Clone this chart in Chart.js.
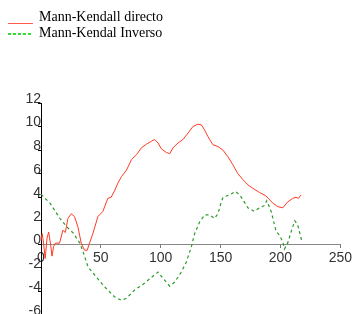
<!DOCTYPE html>
<html>
<head>
<meta charset="utf-8">
<script src="https://cdn.jsdelivr.net/npm/chart.js@4"></script>
<style>
  html, body { margin: 0; padding: 0; background: #fff; overflow: hidden; }
  #wrap { position: relative; width: 354px; height: 314px; overflow: hidden; }
  #chart { position: absolute; left: 0; top: 0; }
  .lg-text { position: absolute; left: 39px; font: 14px "Liberation Serif", "Times New Roman", serif; line-height: 16px; color: #000; white-space: nowrap; }
  .lg-line { position: absolute; left: 8px; width: 25px; }
</style>
</head>
<body>
<div id="wrap">
  <canvas id="chart" width="354" height="330"></canvas>
  <div class="lg-line" style="top:23px;height:1px;background:#ff5a4a;"></div>
  <div class="lg-text" style="top:9px;">Mann-Kendall directo</div>
  <div class="lg-line" style="top:33px;height:2px;width:23px;background:repeating-linear-gradient(90deg,#33dd33 0 3px,transparent 3px 5px);"></div>
  <div class="lg-text" style="top:25px;">Mann-Kendal Inverso</div>
</div>
<script>
// Mann-Kendall directo
const directoX = [0, 1, 2, 3.5, 5, 6.4, 8, 9.2, 10.5, 12, 15.5, 18.3, 20.3, 22.5, 25.3, 28, 30.8, 33.6, 36.4, 38.6,
  40.5, 43.3, 47.5, 51.7, 55.8, 58.6, 61.7, 64.2, 67.2, 71.4, 75.6, 79.7, 83.9, 88, 92.2, 95, 97.8, 100.6, 104.7, 107.5,
  110.3, 114.4, 118.6, 122.8, 126.9, 131, 133.9, 136.7, 139.4, 143.6, 147.8, 152, 156, 160.3, 164.4, 168.6, 172.8, 177,
  182.5, 188, 193.6, 197.8, 202, 206, 210.3, 213, 215, 217.2];
const directoY = [0.3, 0.9, 0.2, -1.2, 0.5, 1.05, 0, -1.0, -0.2, 0.1, 0.1, 1.2, 1.0, 2.2, 2.6, 2.35, 1.5, 0.1, -0.5, -0.5,
  0.1, 0.9, 2.35, 2.8, 3.9, 4.0, 4.6, 5.2, 5.75, 6.3, 7.2, 7.6, 8.2, 8.5, 8.75, 8.9, 8.6, 8.1, 7.8, 7.7,
  8.2, 8.6, 8.9, 9.45, 10.0, 10.2, 10.15, 9.7, 9.15, 8.45, 8.3, 8.0, 7.45, 6.75, 6.0, 5.5, 5.05, 4.75,
  4.4, 4.1, 3.5, 3.2, 3.1, 3.6, 3.9, 4.0, 3.9, 4.2];

// Mann-Kendal Inverso
const inversoX = [0, 7.5, 15.8, 21.4, 27, 32.5, 35, 39.2, 46, 53, 61.4, 67, 71, 78, 86.4, 94.7, 97.8, 102, 107.5, 111.7,
  117.2, 121.4, 125.6, 128.3, 132.5, 136.7, 140.8, 145, 147.8, 150.6, 152, 157.5, 162.5, 167, 172.8, 178.3, 182.5, 186.7,
  188.6, 192.2, 196.4, 199, 202, 203.3, 206, 209, 212, 214.4, 218];
const inversoY = [4.25, 3.5, 2.2, 1.5, 0.95, 0.1, -0.6, -1.9, -2.75, -3.6, -4.45, -4.75, -4.6, -3.9, -3.3, -2.6, -2.35, -2.9, -3.55, -3.2,
  -2.35, -1.5, -0.2, 0.9, 1.9, 2.5, 2.5, 2.2, 2.6, 3.6, 4.0, 4.2, 4.5, 4.05, 3.1, 2.8, 3.1, 3.3,
  3.7, 2.8, 1.1, 0.8, 0.2, -0.4, 0.1, 1.1, 2.0, 1.65, 0.2];

const xTicks = [0, 50, 100, 150, 200, 250];
const yTicks = [-6, -4, -2, 0, 2, 4, 6, 8, 10, 12];

function toPoints(xs, ys) {
    return xs.map((x, i) => ({ x: x, y: ys[i] }));
}

const tickFont = { family: '"Liberation Sans", Arial, sans-serif', size: 14 };

new Chart(document.getElementById('chart').getContext('2d'), {
    type: 'line',
    data: {
        datasets: [{
            label: 'Mann-Kendall directo',
            data: toPoints(directoX, directoY),
            borderColor: '#ff3a24',
            borderWidth: 1,
            pointRadius: 0,
            tension: 0
        }, {
            label: 'Mann-Kendal Inverso',
            data: toPoints(inversoX, inversoY),
            borderColor: '#2a9a2a',
            borderWidth: 1.2,
            borderDash: [3, 3],
            pointRadius: 0,
            tension: 0
        }]
    },
    options: {
        responsive: false,
        animation: false,
        devicePixelRatio: 1,
        layout: { padding: { left: 41, right: 12, top: 103, bottom: 15 } },
        plugins: { legend: { display: false }, tooltip: { enabled: false } },
        scales: {
            x: {
                type: 'linear',
                position: { y: 0 },
                min: xTicks[0],
                max: xTicks[xTicks.length - 1],
                afterBuildTicks: scale => { scale.ticks = xTicks.map(v => ({ value: v })); },
                ticks: { color: '#333', font: tickFont, padding: 2, maxRotation: 0 },
                grid: { drawOnChartArea: false, tickLength: 3, tickColor: '#777' },
                border: { color: '#888', width: 1 }
            },
            y: {
                type: 'linear',
                position: { x: 0 },
                min: yTicks[0],
                max: yTicks[yTicks.length - 1],
                afterBuildTicks: scale => { scale.ticks = yTicks.map(v => ({ value: v })); },
                ticks: { color: '#333', font: tickFont, padding: 1, labelOffset: -4 },
                grid: { drawOnChartArea: false, tickLength: 3, tickColor: '#000' },
                border: { color: '#000', width: 1 }
            }
        }
    }
});
</script>
</body>
</html>
